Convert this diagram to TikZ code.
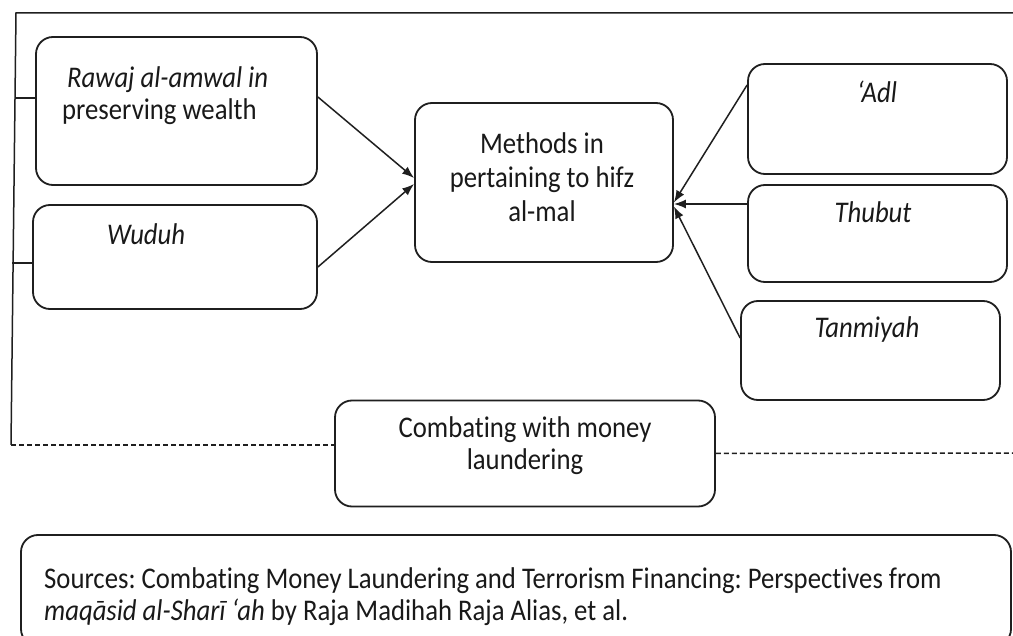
\documentclass[tikz,border=0pt]{standalone}
\usepackage{fontspec}
\setmainfont{Carlito}[FakeStretch=0.89, Ligatures=NoCommon]
\usetikzlibrary{arrows.meta}
\begin{document}
\frenchspacing
\begin{tikzpicture}[x=1pt,y=-1pt,
  box/.style={draw=black!88, line width=1.8pt, rounded corners=17pt, inner sep=0pt},
  lbl/.style={inner sep=0pt, font=\fontsize{30}{33}\selectfont, text=black!90},
  con/.style={draw=black!88, line width=1.5pt},
  arr/.style={con, -{Latex[length=12pt,width=9pt]}},
  dsh/.style={con, dash pattern=on 5pt off 3pt}]
\useasboundingbox (0,0) rectangle (1013,636);
\fill[white] (0,0) rectangle (1013,636);

% boxes
\node[box, minimum width=281pt, minimum height=148pt] (rawaj) at (176.5,111) {};
\node[box, minimum width=284pt, minimum height=104pt] (wuduh) at (175,257) {};
\node[box, minimum width=258pt, minimum height=159pt] (methods) at (544,182.5) {};
\node[box, minimum width=259pt, minimum height=110pt] (adl) at (877.5,119) {};
\node[box, minimum width=259pt, minimum height=97pt] (thubut) at (877.5,233.5) {};
\node[box, minimum width=259pt, minimum height=99pt] (tanmiyah) at (870.5,350.5) {};
\node[box, minimum width=380pt, minimum height=106pt] (combat) at (525,453.5) {};
\node[box, minimum width=990pt, minimum height=111pt] (sources) at (516,590.5) {};

% texts
\node[lbl, anchor=base west] (t1a) at (67,88) {\itshape Rawaj al-amwal in};
\node[lbl, anchor=base west] (t1b) at (62,120) {preserving wealth};
\node[lbl, anchor=base west] (t2) at (107,245) {\itshape Wuduh};
\node[lbl, anchor=base] (t3a) at (542,154) {Methods in};
\node[lbl, anchor=base] (t3b) at (542,188) {pertaining to hifz};
\node[lbl, anchor=base] (t3c) at (542,222) {al-mal};
\node[lbl, anchor=base] (t4) at (877,103) {\itshape ‘Adl};
\node[lbl, anchor=base] (t5) at (873,223) {\itshape Thubut};
\node[lbl, anchor=base] (t6) at (867,338) {\itshape Tanmiyah};
\node[lbl, anchor=base] (t7a) at (525,438) {Combating with money};
\node[lbl, anchor=base] (t7b) at (525,470) {laundering};
\node[lbl, anchor=base west] (t8a) at (44,588) {Sources: Combating Money Laundering and Terrorism Financing: Perspectives from};
\node[lbl, anchor=base west] (t8b) at (44,620) {\itshape maqāsid al-Sharī ‘ah\upshape{} by Raja Madihah Raja Alias, et al.};

% frame
\coordinate (c1) at (1013,13);
\coordinate (c2) at (16,13);
\coordinate (c3) at (11,445);
\coordinate (c4) at (15,98);
\coordinate (c5) at (12,263);
\coordinate (c6) at (1013,453);
\draw[con] (c1) -- (c2) -- (c3);
\draw[dsh] (c3) -- ([yshift=8.5pt]combat.west);
\draw[dsh] (combat.east) -- (c6);
\draw[con] (c4) -- ([yshift=13pt]rawaj.west);
\draw[con] (c5) -- ([yshift=-6pt]wuduh.west);

% arrows
\draw[arr] ([yshift=14pt]rawaj.east) -- ([yshift=4.5pt]methods.west);
\draw[arr] ([yshift=-10pt]wuduh.east) -- ([yshift=-1.5pt]methods.west);
\draw[arr] ([yshift=34pt]adl.west) -- ([yshift=-20pt]methods.east);
\draw[arr] ([yshift=29.5pt]thubut.west) -- ([yshift=-21.5pt]methods.east);
\draw[arr] ([yshift=12.5pt]tanmiyah.west) -- ([yshift=-24pt]methods.east);
\end{tikzpicture}
\end{document}
